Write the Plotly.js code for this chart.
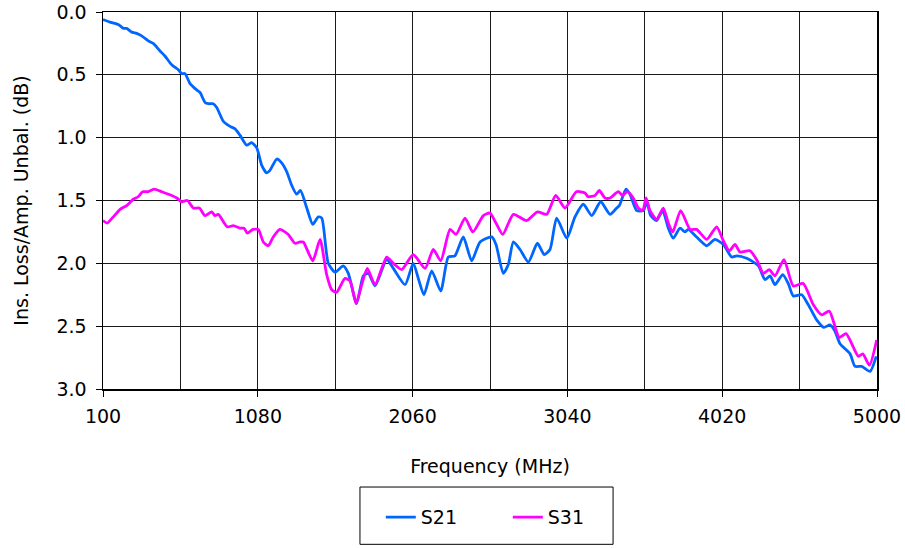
<!DOCTYPE html>
<html>
<head>
<meta charset="utf-8">
<script src="https://cdn.plot.ly/plotly-3.0.1.min.js"></script>
<style>html,body{margin:0;padding:0;background:#fff;}#chart{width:905px;height:548px;}</style>
</head>
<body>
<div id="chart"></div>
<script>
// Frequency (MHz) and insertion loss / amplitude unbalance (dB)
const s21Freq = [100,144,197,229,250,282,313,345,387,418,461,492,535,577,598,619,651,693,714,746,767,798,820,862,904,936,967,1010,1041,1073,1105,1136,1157,1200,1231,1263,1295,1326,1350,1390,1428,1463,1485,1526,1569,1621,1653,1706,1748,1780,1822,1896,1938,2012,2064,2096,2132,2181,2238,2286,2328,2381,2434,2487,2561,2588,2634,2666,2698,2740,2793,2850,2893,2930,2972,3036,3088,3141,3194,3251,3310,3352,3369,3411,3436,3479,3521,3542,3567,3605,3643,3679,3710,3753,3784,3805,3858,3922,3974,4027,4080,4112,4175,4249,4291,4323,4354,4403,4438,4470,4523,4565,4618,4664,4702,4734,4766,4829,4861,4903,4956,4995];
const s21Loss = [0.06,0.08,0.10,0.13,0.13,0.16,0.17,0.19,0.23,0.25,0.31,0.35,0.42,0.46,0.49,0.49,0.57,0.62,0.64,0.72,0.73,0.73,0.76,0.87,0.91,0.93,0.98,1.06,1.04,1.08,1.22,1.28,1.26,1.17,1.20,1.27,1.38,1.45,1.42,1.56,1.69,1.63,1.64,2.00,2.07,2.02,2.08,2.32,2.10,2.08,2.18,1.97,2.04,2.17,2.00,2.12,2.25,2.06,2.22,1.95,1.94,1.79,1.98,1.83,1.79,1.85,2.08,2.01,1.83,1.89,1.99,1.84,1.93,1.89,1.64,1.80,1.63,1.53,1.62,1.51,1.61,1.56,1.54,1.41,1.45,1.58,1.58,1.51,1.62,1.66,1.58,1.72,1.80,1.72,1.75,1.73,1.79,1.86,1.81,1.85,1.95,1.94,1.96,2.02,2.13,2.10,2.17,2.09,2.16,2.26,2.25,2.33,2.45,2.51,2.49,2.54,2.64,2.72,2.82,2.82,2.86,2.74];

const s31Freq = [100,127,165,208,250,292,323,351,387,423,472,535,567,598,634,672,710,746,788,809,830,887,925,967,993,1014,1048,1083,1115,1146,1178,1220,1273,1315,1347,1368,1428,1474,1516,1548,1579,1632,1664,1702,1738,1773,1822,1896,1938,1991,2064,2139,2191,2238,2297,2335,2392,2441,2508,2550,2588,2631,2698,2782,2850,2909,2966,3025,3097,3151,3172,3215,3242,3278,3310,3362,3390,3419,3457,3489,3517,3538,3563,3605,3647,3679,3707,3757,3817,3858,3922,3985,4027,4065,4101,4133,4196,4242,4280,4318,4354,4411,4470,4533,4597,4650,4698,4761,4804,4882,4910,4952,4998];
const s31Loss = [1.66,1.68,1.63,1.57,1.54,1.49,1.47,1.43,1.43,1.41,1.43,1.46,1.48,1.51,1.50,1.56,1.56,1.62,1.59,1.62,1.61,1.71,1.70,1.72,1.72,1.76,1.73,1.73,1.83,1.86,1.79,1.73,1.77,1.84,1.83,1.83,1.98,1.81,2.09,2.21,2.23,2.12,2.14,2.32,2.17,2.04,2.17,1.95,2.00,2.05,1.93,2.04,1.89,1.98,1.73,1.77,1.64,1.75,1.62,1.60,1.68,1.77,1.61,1.66,1.59,1.61,1.46,1.56,1.43,1.44,1.47,1.46,1.42,1.48,1.48,1.43,1.46,1.43,1.48,1.56,1.58,1.48,1.58,1.65,1.56,1.68,1.75,1.58,1.73,1.73,1.81,1.71,1.82,1.90,1.85,1.91,1.90,1.98,2.08,2.05,2.10,1.97,2.18,2.16,2.33,2.41,2.38,2.59,2.56,2.74,2.72,2.81,2.61];

const xTickVals = [100,1080,2060,3040,4020,5000];
const xTickText = ['100','1080','2060','3040','4020','5000'];
const seriesNames = ['S21','S31'];

const FONT = 'DejaVu Sans, Verdana, sans-serif';
const FS = 19;

const traces = [
  {x: s21Freq, y: s21Loss, name: seriesNames[0], type: 'scatter', mode: 'lines',
   line: {color: '#0066FF', width: 2.8, shape: 'spline', smoothing: 0.6}},
  {x: s31Freq, y: s31Loss, name: seriesNames[1], type: 'scatter', mode: 'lines',
   line: {color: '#FF00FF', width: 2.8, shape: 'spline', smoothing: 0.6}}
];

const layout = {
  width: 905, height: 548,
  margin: {l: 103, r: 28, t: 12, b: 156},
  paper_bgcolor: '#fff', plot_bgcolor: '#fff',
  font: {family: FONT, size: FS, color: '#000'},
  showlegend: true,
  xaxis: {
    range: [100, 5000], autorange: false,
    tickvals: xTickVals, ticktext: xTickText,
    ticks: 'outside', ticklen: 6, tickcolor: '#000', tickwidth: 1,
    ticklabelstandoff: 4,
    showgrid: true, gridcolor: '#1a1a1a', gridwidth: 1,
    minor: {tick0: 100, dtick: 490, showgrid: true, gridcolor: '#1a1a1a', gridwidth: 1, ticks: ''},
    showline: true, linecolor: '#000', linewidth: 1.5, mirror: true,
    zeroline: false,
    tickfont: {family: FONT, size: FS, color: '#000'},
    title: {text: 'Frequency (MHz)', font: {family: FONT, size: FS, color: '#000'}, standoff: 33},
    automargin: false
  },
  yaxis: {
    range: [3, 0], autorange: false,
    tick0: 0, dtick: 0.5, tickformat: '.1f',
    ticks: 'outside', ticklen: 6, tickcolor: '#000', tickwidth: 1,
    ticklabelstandoff: 5,
    showgrid: true, gridcolor: '#1a1a1a', gridwidth: 1,
    showline: true, linecolor: '#000', linewidth: 1.5, mirror: true,
    zeroline: false,
    tickfont: {family: FONT, size: FS, color: '#000'},
    title: {text: 'Ins. Loss/Amp. Unbal. (dB)', font: {family: FONT, size: FS, color: '#000'}, standoff: 23},
    automargin: false
  },
  legend: {
    orientation: 'h', x: 0.523, xanchor: 'center', y: -0.34, yanchor: 'middle',
    bgcolor: 'rgba(0,0,0,0)', borderwidth: 0,
    font: {family: FONT, size: FS, color: '#000'},
    entrywidth: 82, itemwidth: 30
  },
  shapes: [
    {type: 'rect', xref: 'paper', yref: 'paper', x0: 0.332, x1: 0.659, y0: -0.412, y1: -0.26,
     line: {color: '#000', width: 1}, fillcolor: 'rgba(0,0,0,0)'}
  ]
};

Plotly.newPlot('chart', traces, layout, {displayModeBar: false, staticPlot: true});
</script>
</body>
</html>
